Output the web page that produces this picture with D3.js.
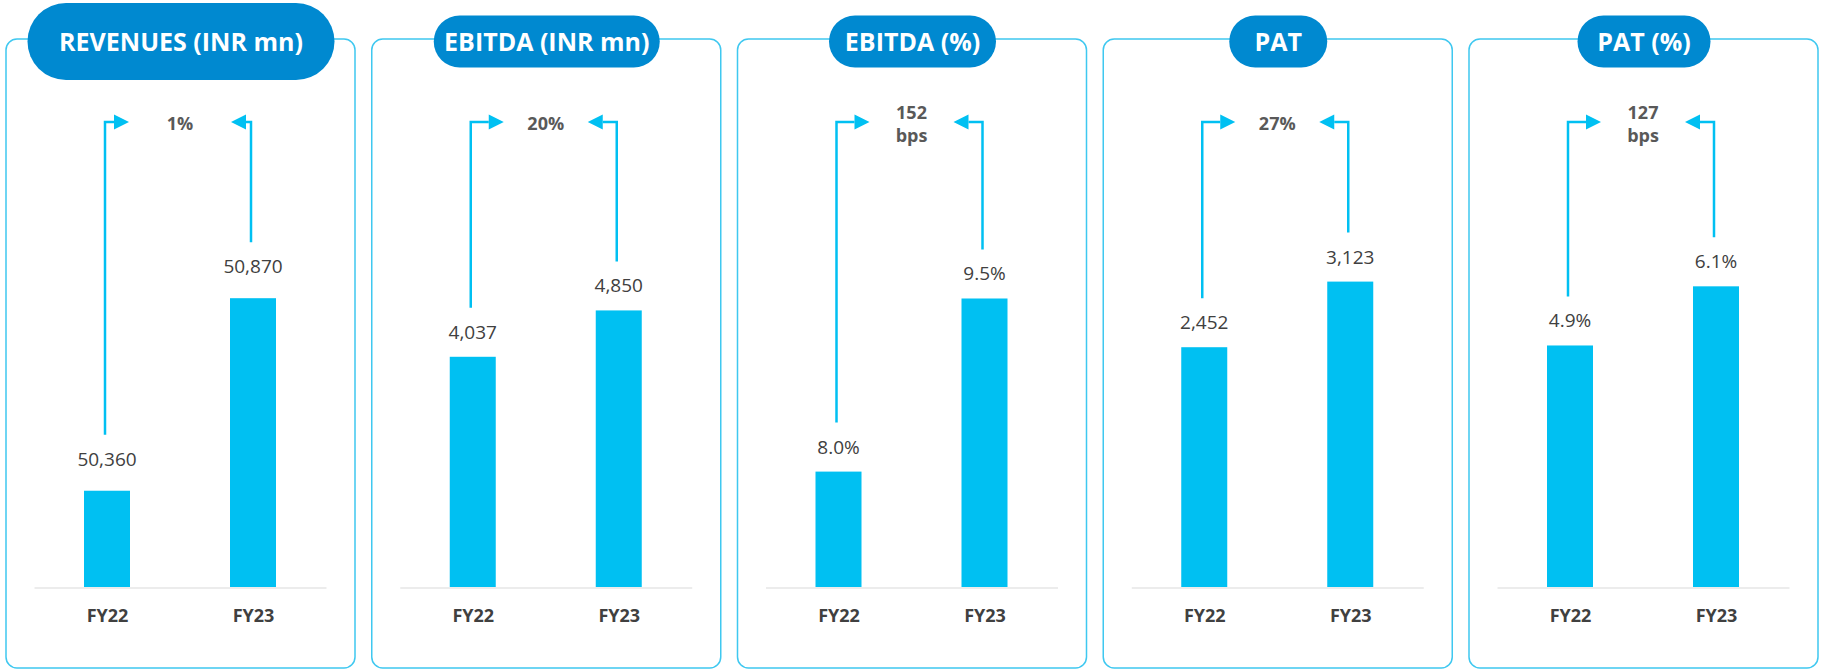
<!DOCTYPE html>
<html>
<head>
<meta charset="utf-8">
<script src="https://cdn.jsdelivr.net/npm/d3@7/dist/d3.min.js"></script>
<style>
  html, body { margin: 0; padding: 0; background: #ffffff; }
  svg { display: block; }
</style>
</head>
<body>
<svg id="chart" width="1825" height="670"></svg>
<script>
// ---------- DATA ----------
const metrics = ["REVENUES (INR mn)", "EBITDA (INR mn)", "EBITDA (%)", "PAT", "PAT (%)"];
const years = ["FY22", "FY23"];
const fy22Values = [50360, 4037, 8.0, 2452, 4.9];
const fy23Values = [50870, 4850, 9.5, 3123, 6.1];
const isPercent = [false, false, true, false, true];
const growthLabels = [["1%"], ["20%"], ["152", "bps"], ["27%"], ["127", "bps"]];
// value-axis extents per panel (each panel has its own scale)
const axisMin = [50105, 0, 7.0, 0, 0];
const axisMax = [51395, 8540, 11.22, 4980, 9.88];

// ---------- LAYOUT ----------
const W = 1825, H = 670;
const panelX0 = 6, panelStep = 365.75, panelW = 349;
const panelTop = 39, panelBottom = 668;
const baseY = 587, plotTop = 100;
const pillW = [307, 226, 167, 98, 133];
const pillH = [77, 52, 52, 52, 52];
const labelGap = [25, 18, 18, 18, 18];
const arrowHalfGap = [51, 42, 42, 42, 42];
const arrowY = 122;

const barColor = "#00C0F2";
const borderColor = "#3FC8F0";
const pillColor = "#0089D0";
const textDark = "#404040";
const textGrowth = "#595959";
const font = "'Open Sans', 'Noto Sans', sans-serif";

const svg = d3.select("#chart");

const x = d3.scalePoint().domain(years).range([28, 320]).padding(0.5);
const barW = 46;

metrics.forEach((m, i) => {
  const px = panelX0 + i * panelStep;
  const g = svg.append("g").attr("transform", `translate(${px},0)`);
  const vals = [fy22Values[i], fy23Values[i]];
  const y = d3.scaleLinear().domain([axisMin[i], axisMax[i]]).range([baseY, plotTop]);
  const fmt = isPercent[i] ? (v => d3.format(".1f")(v) + "%") : d3.format(",");

  // panel border
  g.append("rect")
    .attr("x", 0).attr("y", panelTop)
    .attr("width", panelW).attr("height", panelBottom - panelTop)
    .attr("rx", 11).attr("ry", 11)
    .attr("fill", "none").attr("stroke", borderColor).attr("stroke-width", 1.5);

  // title pill
  const cx = 175;
  g.append("rect")
    .attr("x", cx - pillW[i] / 2).attr("y", 41.5 - pillH[i] / 2)
    .attr("width", pillW[i]).attr("height", pillH[i])
    .attr("rx", pillH[i] / 2).attr("ry", pillH[i] / 2)
    .attr("fill", pillColor);
  g.append("text")
    .attr("x", cx).attr("y", 51)
    .attr("text-anchor", "middle")
    .attr("font-family", font).attr("font-weight", 700).attr("font-size", 25)
    .attr("fill", "#ffffff")
    .text(m);

  // bars
  g.selectAll("rect.bar").data(years).enter().append("rect")
    .attr("class", "bar")
    .attr("x", d => x(d) - barW / 2)
    .attr("y", (d, j) => y(vals[j]))
    .attr("width", barW)
    .attr("height", (d, j) => baseY - y(vals[j]))
    .attr("fill", barColor);

  // x axis
  const ax = g.append("g").attr("transform", `translate(0,${baseY + 0.5})`)
    .call(d3.axisBottom(x).tickSize(0).tickSizeOuter(0).tickPadding(22));
  ax.select(".domain").attr("stroke", "#E6E6E6").attr("stroke-width", 1.5);
  ax.selectAll(".tick text")
    .attr("font-family", font).attr("font-weight", 700).attr("font-size", 18)
    .attr("fill", textDark);

  // value labels
  g.selectAll("text.val").data(years).enter().append("text")
    .attr("class", "val")
    .attr("x", d => x(d))
    .attr("y", (d, j) => y(vals[j]) - labelGap[i])
    .attr("text-anchor", "middle")
    .attr("font-family", font).attr("font-size", 19)
    .attr("fill", textDark)
    .text((d, j) => fmt(vals[j]));

  // growth label
  const mid = (x(years[0]) + x(years[1])) / 2;
  const lines = growthLabels[i];
  const gt = g.append("text")
    .attr("text-anchor", "middle")
    .attr("font-family", font).attr("font-weight", 700).attr("font-size", 18)
    .attr("fill", textGrowth);
  lines.forEach((ln, k) => {
    const by = lines.length === 1 ? 130 : 119 + k * 23;
    gt.append("tspan").attr("x", mid).attr("y", by).text(ln);
  });

  // arrows
  const head = 15, headHalf = 7.5;
  years.forEach((yr, j) => {
    const vx = x(yr) - 2;
    const startY = y(vals[j]) - labelGap[i] - 31;
    const dir = j === 0 ? 1 : -1;
    const tipX = mid - dir * arrowHalfGap[i];
    const baseX = tipX - dir * head;
    g.append("path")
      .attr("d", `M${vx},${startY} V${arrowY} H${baseX}`)
      .attr("fill", "none").attr("stroke", barColor).attr("stroke-width", 2.5);
    g.append("path")
      .attr("d", `M${baseX},${arrowY - headHalf} L${tipX},${arrowY} L${baseX},${arrowY + headHalf} Z`)
      .attr("fill", barColor);
  });
});
</script>
</body>
</html>
